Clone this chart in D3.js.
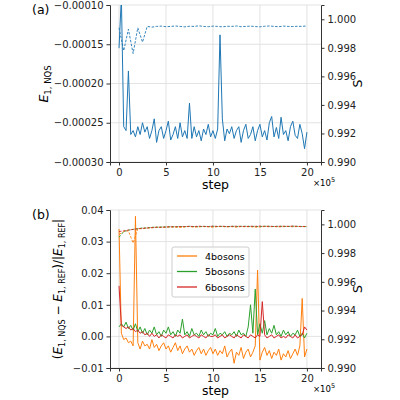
<!DOCTYPE html>
<html><head><meta charset="utf-8">
<script src="https://cdn.jsdelivr.net/npm/d3@7"></script>
<style>
body{margin:0;background:#fff}
text{font-family:"DejaVu Sans",sans-serif}
</style></head>
<body><svg id="chart" width="400" height="400"></svg>
<script>
// energies top panel, units of 1e-5, one value every 0.25e5 steps
const eTop = [-15.5,-9,-25.5,-26,-18.4,-26.5,-26,-26.8,-25.5,-26.5,-25,-26.2,-25.5,-27,-26,-24.5,-27.5,-26,-25.5,-27,-26,-24.8,-27.2,-26.5,-25.5,-27,-25,-26.8,-26,-27,-22.5,-27,-25.5,-26.8,-26,-27.3,-25.8,-26.5,-25.2,-26.8,-26,-27,-25.8,-13.8,-24.5,-27.3,-25.8,-26.4,-25.5,-27,-26,-25.5,-27.5,-26,-25.2,-27,-26.5,-25.5,-27.3,-26,-25.2,-26.8,-26,-27.2,-25,-24.2,-26.8,-25.6,-27,-24.3,-26.5,-26,-27.3,-25.5,-24.8,-26.6,-27,-25.2,-26.4,-28.3,-26.2];
// overlap S, (S-1) in units of 1e-4, every 0.5e5 steps
const sTop = [-6,-22,-7,-24,-6,-16,-5,-5.5,-5,-4.8,-5.2,-5,-4.7,-5,-5.3,-4.9,-5,-4.6,-5,-5.2,-4.8,-5,-5.3,-4.9,-5,-4.7,-5.2,-5,-4.8,-5.1,-5.3,-4.9,-4.7,-5,-5.2,-4.8,-5,-5.1,-4.9,-5,-4.6];

const series = ["4bosons","5bosons","6bosons"];
const colors = ["#ff7f0e","#2ca02c","#d62728"];
// relative errors, units of 1e-3, every 0.25e5 steps
const err4 = [34,1,-1,-0.5,-2,-1.5,-3,38,-2,-4,-1.5,-3,-2.5,-4,-1,-3.5,-2.5,-4.5,-3,-2,-4,-3,-5,-3.5,-2,-4.5,-3,-5.5,-4,-3,-5,-4,-6,-4.5,-3.5,-5.5,-4,-6,-4.5,-3.5,-5.5,-4,-6,-4.5,-5.5,-3,-6.5,-5,-4,-8.5,-5,-6,-3.5,-7,-5,-4,-6.5,-5,-3,21,-7.5,-5,-3.5,-6,-4.5,-7,-5,-6,-4,-7.5,-5.5,-6.5,-4.5,-7,-5.5,-4,-6,-3,12,-6.5,-4];
const err5 = [3,4,3,4.5,2.5,3.5,2,4,1.5,3,1,2.5,0.5,2,1,3,0.5,1.5,0,2,1,3,0.5,1.5,0,2,1,5.5,0.5,1.5,0,2.5,0.5,1,0,2,0.5,1.5,0,1,0.5,2.5,0,1,0.5,1.5,0,1,0.5,1.5,0,2,0.5,1,0,3,10,1,15,0.5,4,1,5,0.5,2.5,1,3.5,0.5,1.5,0,2,0.5,1.5,0,1,0.5,2,0,1,-0.5,1];
const err6 = [16,3.5,3,2.5,3,2,2.5,1.5,2,1,1.5,0.5,1,0,1,0,0.5,-0.5,0.5,0,-0.5,0.5,0,-0.5,0.5,0,0.5,-0.5,0,0.5,-0.5,0,0.5,0,-0.5,0.5,0,-0.5,0.5,0,0,0.5,-0.5,0,0.5,-0.5,0,0.5,0,-0.5,0.5,0,-0.5,0.5,0,-0.5,0.5,0,-0.5,0.5,0,11,0.5,-0.5,0,0.5,-0.5,0,0.5,-0.5,0,-0.5,0.5,0,-0.5,0.5,-0.5,0,0.5,3,2];
// (S-1) in units of 1e-4, every 0.5e5 steps
const s4 = [-7,-5,-4.5,-13,-3,-3,-2.5,-2.5,-2,-2.2,-2,-1.8,-2,-2.2,-1.8,-1.5,-2,-1.7,-1.5,-1.8,-2,-1.6,-1.5,-1.8,-1.6,-2,-1.5,-1.7,-1.6,-2,-1.8,-1.5,-1.7,-1.5,-1.8,-1.6,-1.4,-1.7,-1.5,-1.6,-1.5];
const s5 = [-9,-5,-4,-3.5,-3,-2.5,-2.5,-2,-2,-1.8,-1.8,-1.6,-1.7,-1.5,-1.6,-1.4,-1.5,-1.6,-1.4,-1.5,-1.3,-1.5,-1.4,-1.6,-1.3,-1.5,-1.4,-1.3,-1.5,-1.4,-1.6,-1.3,-1.4,-1.5,-1.3,-1.4,-1.5,-1.3,-1.4,-1.5,-1.6];
const s6 = [-5,-4.5,-4,-3.5,-3,-2.8,-2.5,-2.2,-2,-2,-1.8,-1.7,-1.6,-1.5,-1.5,-1.4,-1.5,-1.3,-1.4,-1.5,-1.3,-1.4,-1.3,-1.5,-1.4,-1.3,-1.4,-1.5,-1.3,-1.4,-1.2,-1.4,-1.3,-1.5,-1.4,-1.3,-1.4,-1.2,-1.4,-1.5,-1.4];

const xTicks = [0,5,10,15,20];
const topTicks = [-0.00030,-0.00025,-0.00020,-0.00015,-0.00010];
const botTicks = [-0.01,0,0.01,0.02,0.03,0.04];
const sTicks = [0.990,0.992,0.994,0.996,0.998,1.000];

const svg = d3.select("#chart");
const L = 110, R = 321;
const x = d3.scaleLinear().domain([-0.96, 21.5]).range([L, R]);
const minus = s => s.replace("-", "\u2212");

function panel(top, bottom, yDom, yTicks, yFmt, tag) {
  const g = svg.append("g");
  const y = d3.scaleLinear().domain(yDom).range([bottom, top]);
  const ys = d3.scaleLinear().domain([0.990, 1.001]).range([bottom, top]);
  g.append("g").selectAll("line").data(xTicks).join("line")
    .attr("x1", d => x(d)).attr("x2", d => x(d)).attr("y1", top).attr("y2", bottom)
    .attr("stroke", "#dcdcdc").attr("stroke-width", 0.8);
  g.append("g").selectAll("line").data(yTicks).join("line")
    .attr("x1", L).attr("x2", R).attr("y1", d => y(d)).attr("y2", d => y(d))
    .attr("stroke", "#dcdcdc").attr("stroke-width", 0.8);
  const clip = "clip" + tag;
  svg.append("clipPath").attr("id", clip).append("rect")
    .attr("x", L).attr("y", top).attr("width", R - L).attr("height", bottom - top);
  const plot = g.append("g").attr("clip-path", `url(#${clip})`);
  const ax = d3.axisBottom(x).tickValues(xTicks).tickSize(3.5).tickPadding(3);
  g.append("g").attr("transform", `translate(0,${bottom})`).call(ax);
  g.append("g").attr("transform", `translate(${L},0)`)
    .call(d3.axisLeft(y).tickValues(yTicks).tickFormat(d => minus(yFmt(d))).tickSize(3.5).tickPadding(3));
  g.append("g").attr("transform", `translate(${R},0)`)
    .call(d3.axisRight(ys).tickValues(sTicks).tickFormat(d3.format(".3f")).tickSize(3.5).tickPadding(3));
  g.selectAll(".domain").attr("stroke", "#333");
  g.selectAll(".tick text").attr("font-size", 10).attr("fill", "#222");
  g.selectAll(".tick line").attr("stroke", "#333");
  g.append("text").attr("x", (L + R) / 2).attr("y", bottom + 27).attr("text-anchor", "middle")
    .attr("font-size", 12.5).text("step");
  const sc = g.append("text").attr("x", R - 8).attr("y", bottom + 24).attr("font-size", 8.5);
  sc.append("tspan").text("\u00d710");
  sc.append("tspan").attr("dy", -4).attr("font-size", 6.5).text("5");
  g.append("text").attr("transform", `translate(362,${(top + bottom) / 2}) rotate(-90)`)
    .attr("text-anchor", "middle").attr("font-size", 12.5).text("S");
  return { plot, y, ys };
}

function drawLine(plot, xs, ys, vals, color, dash) {
  plot.append("path").datum(vals)
    .attr("fill", "none").attr("stroke", color).attr("stroke-width", dash ? 0.9 : 1)
    .attr("stroke-dasharray", dash ? "2.5,1.5" : null)
    .attr("d", d3.line().x((d, i) => x(i * xs)).y(d => ys(d)));
}

// panel (a)
const a = panel(5, 162, [-0.00030, -0.00010], topTicks, d3.format(".5f"), "a");
drawLine(a.plot, 0.25, a.y, eTop.map(v => v * 1e-5), "#1f77b4", false);
drawLine(a.plot, 0.5, a.ys, sTop.map(v => 1 + v * 1e-4), "#1f77b4", true);
svg.append("text").attr("x", 32).attr("y", 14).attr("font-size", 12.5).text("(a)");
const la = svg.append("text").attr("transform", "translate(48,84) rotate(-90)")
  .attr("text-anchor", "middle").attr("font-size", 12.5);
la.append("tspan").attr("font-style", "italic").text("E");
la.append("tspan").attr("dy", 3).attr("font-size", 8.5).text("1, NQS");

// panel (b)
const b = panel(210, 368, [-0.01, 0.04], botTicks, d3.format(".2f"), "b");
const errs = [err4, err5, err6], sv = [s4, s5, s6];
errs.forEach((e, k) => drawLine(b.plot, 0.25, b.y, e.map(v => v * 1e-3), colors[k], false));
sv.forEach((s, k) => drawLine(b.plot, 0.5, b.ys, s.map(v => 1 + v * 1e-4), colors[k], true));
svg.append("text").attr("x", 32).attr("y", 219).attr("font-size", 12.5).text("(b)");
const lb = svg.append("text").attr("transform", "translate(62,289) rotate(-90)")
  .attr("text-anchor", "middle").attr("font-size", 12);
lb.append("tspan").text("(");
lb.append("tspan").attr("font-style", "italic").text("E");
lb.append("tspan").attr("dy", 3).attr("font-size", 8).text("1, NQS");
lb.append("tspan").attr("dy", -3).text(" \u2212 ");
lb.append("tspan").attr("font-style", "italic").text("E");
lb.append("tspan").attr("dy", 3).attr("font-size", 8).text("1, REF");
lb.append("tspan").attr("dy", -3).text(")/|");
lb.append("tspan").attr("font-style", "italic").text("E");
lb.append("tspan").attr("dy", 3).attr("font-size", 8).text("1, REF");
lb.append("tspan").attr("dy", -3).text("|");

// legend
const lg = svg.append("g").attr("transform", "translate(172,247)");
lg.append("rect").attr("width", 77).attr("height", 50).attr("rx", 2)
  .attr("fill", "#fff").attr("fill-opacity", 0.85).attr("stroke", "#ccc");
series.forEach((s, k) => {
  const yy = 9 + k * 15.5;
  lg.append("line").attr("x1", 5).attr("x2", 25).attr("y1", yy).attr("y2", yy)
    .attr("stroke", colors[k]).attr("stroke-width", 1.3);
  lg.append("text").attr("x", 33).attr("y", yy + 3.5).attr("font-size", 9.5).text(s);
});
</script></body></html>
